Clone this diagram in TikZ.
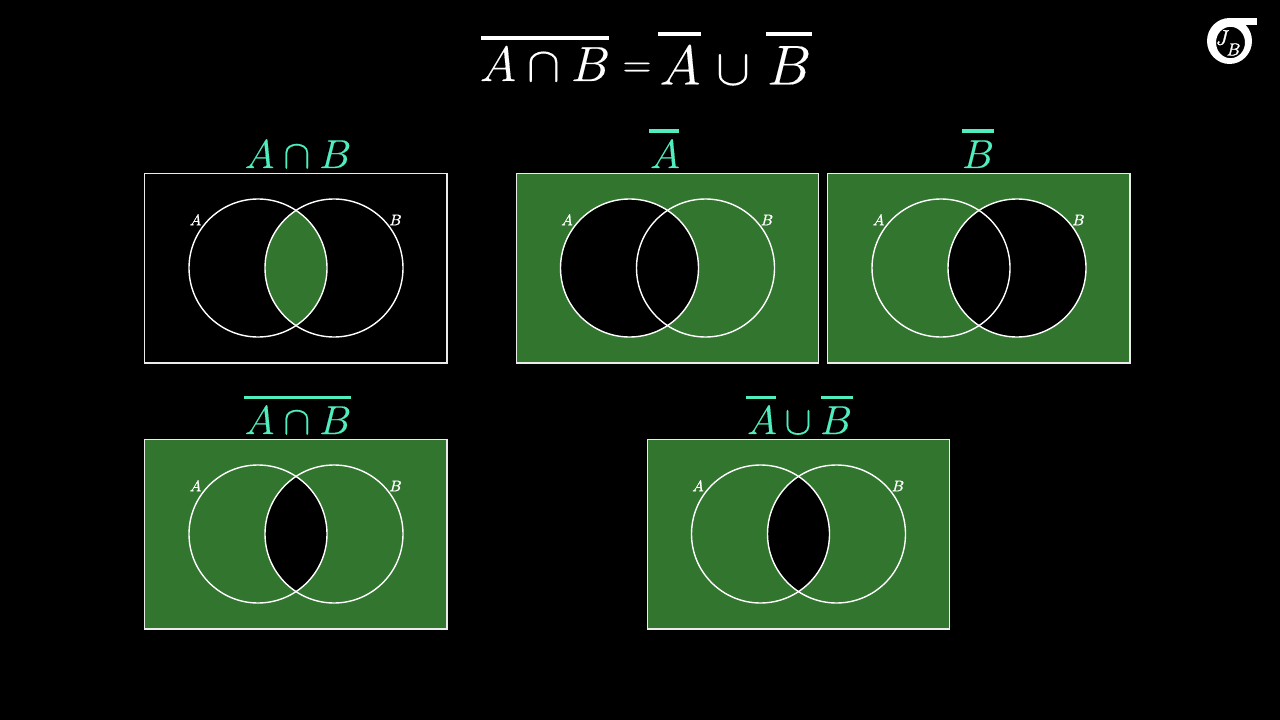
\RequirePackage{fix-cm}
\documentclass[tikz,border=0pt]{standalone}
\definecolor{vgreen}{RGB}{49,117,46}
\definecolor{vteal}{RGB}{80,238,190}
\definecolor{vline}{RGB}{235,235,235}
\newcommand{\emb}[2]{\special{pdf:code 2 Tr #1 w}#2\special{pdf:code 0 Tr}}
\tikzset{
  frame/.style={draw=vline,line width=0.85pt},
  ring/.style={draw=white,line width=1.05pt},
  setlabel/.style={text=white,font=\fontsize{11.5}{13}\selectfont,inner sep=0pt},
  title/.style={text=vteal,inner sep=0pt,anchor=base,font=\fontsize{30.3}{33}\selectfont},
  head/.style={text=white,inner sep=0pt,anchor=base},
}
% #1 x shift, #2 y shift, #3 fill code
\newcommand{\vpanel}[3]{%
\begin{scope}[shift={(#1,#2)}]
  \coordinate (ca) at (258,268);
  \coordinate (cb) at (334,268);
  #3
  \draw[frame] (144.6,173.6) rectangle (447,363);
  \draw[ring] (ca) circle[radius=69];
  \draw[ring] (cb) circle[radius=69];
  \node[setlabel] at (195.5,220) {\emb{0.15}{$A$}};
  \node[setlabel] at (395.5,220) {\emb{0.15}{$B$}};
\end{scope}}
\newcommand{\fillbox}{\fill[vgreen] (145,174) rectangle (447,363);}
\newcommand{\inter}[1]{\begin{scope}\clip (ca) circle[radius=69];\fill[#1] (cb) circle[radius=69];\end{scope}}
\begin{document}
\begin{tikzpicture}[x=0.75pt,y=-0.75pt]
\fill[black] (0,0) rectangle (1280,720);
\useasboundingbox (0,0) rectangle (1280,720);

% panels
\vpanel{0}{0}{\inter{vgreen}}
\vpanel{371.5}{0}{\fillbox\fill[black] (ca) circle[radius=69];\inter{black}}
\vpanel{683}{0}{\fillbox\fill[black] (cb) circle[radius=69];\inter{black}}
\vpanel{0}{266}{\fillbox\inter{black}}
\vpanel{502.5}{266}{\fillbox\inter{black}}

% main heading
\node[head,font=\fontsize{37}{40}\selectfont] (h1) at (545,81) {\emb{0.1}{$A\cap B$}};
\fill[white] (481,36) rectangle (609,40);
\node[head,font=\fontsize{30}{34}\selectfont] (h2) at (637,77) {\emb{0.1}{$=$}};
\node[head,font=\fontsize{42}{46}\selectfont] (h3) at (680,84.5) {\emb{0.1}{$A$}};
\fill[white] (658,32) rectangle (701,36);
\node[head,font=\fontsize{38}{42}\selectfont] (h4) at (733,84.5) {\emb{0.1}{$\cup$}};
\node[head,font=\fontsize{42}{46}\selectfont] (h5) at (789,84.5) {\emb{0.1}{$B$}};
\fill[white] (766,32) rectangle (812,36);

% panel titles
\node[title] (t1) at (298,168) {\emb{0.1}{$A\cap B$}};
\node[title] (t2) at (665,168) {\emb{0.1}{$A$}};
\fill[vteal] (649,129.5) rectangle (679,133);
\node[title] (t3) at (978,168) {\emb{0.1}{$B$}};
\fill[vteal] (962,129.5) rectangle (994,133);
\node[title] (t4) at (298,434) {\emb{0.1}{$A\cap B$}};
\fill[vteal] (244,395.5) rectangle (351,399);
\node[title] (t5a) at (762,434) {\emb{0.1}{$A$}};
\fill[vteal] (746,395.5) rectangle (776,399);
\node[title] (t5b) at (798,434) {\emb{0.1}{$\cup$}};
\node[title] (t5c) at (836,434) {\emb{0.1}{$B$}};
\fill[vteal] (821,395.5) rectangle (853,399);

% logo
\fill[white,even odd rule] (1229.5,41) ellipse[x radius=22.5,y radius=23]
  (1230.5,42.5) ellipse[x radius=14.5,y radius=15.7];
\fill[white] (1230,18) rectangle (1257,25);
\node[text=white,inner sep=0pt,font=\fontsize{16}{17}\selectfont] (lj) at (1222.5,37.5) {\emb{0.2}{$J$}};
\node[text=white,inner sep=0pt,font=\fontsize{13}{14}\selectfont] (lb) at (1233.5,49.5) {\emb{0.2}{$B$}};
\end{tikzpicture}
\end{document}
